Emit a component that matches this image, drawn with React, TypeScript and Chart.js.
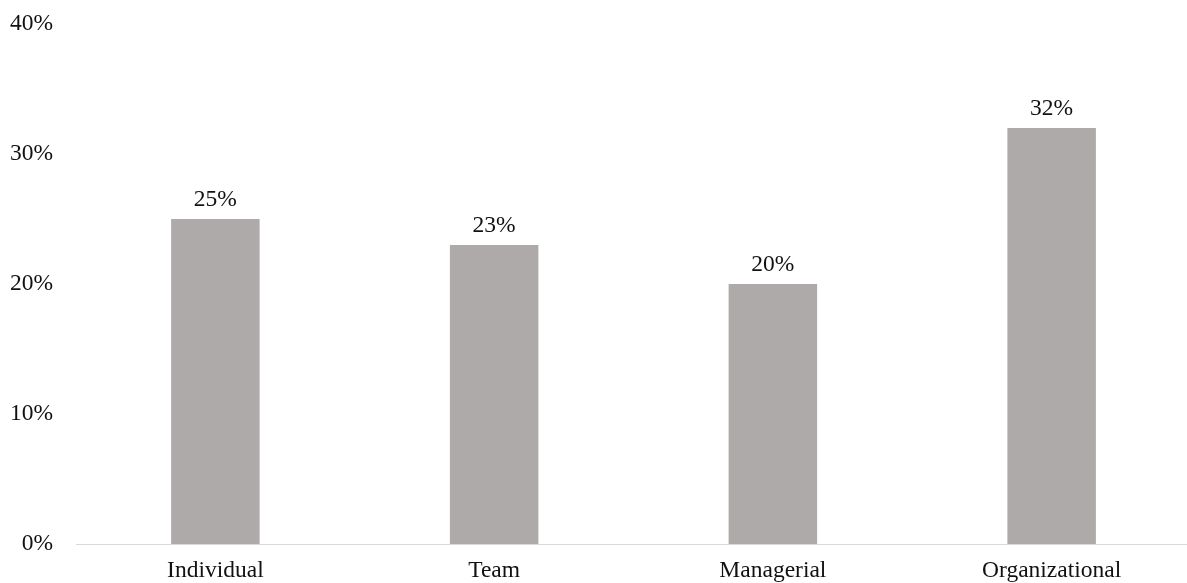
import React, { useEffect, useRef } from "react";
import { Chart, registerables } from "chart.js";

Chart.register(...registerables);

const categories = ["Individual", "Team", "Managerial", "Organizational"];
const values = [25, 23, 20, 32];
const yTicks = [0, 10, 20, 30, 40];

const FONT = '"Liberation Serif", "Times New Roman", serif';
const TEXT = "#111111";
const BAR = "#AEAAAA";

const valueLabels = {
  id: "valueLabels",
  afterDatasetsDraw(chart: any) {
    const ctx = chart.ctx;
    const meta = chart.getDatasetMeta(0);
    ctx.save();
    ctx.font = `23.5px ${FONT}`;
    ctx.fillStyle = TEXT;
    ctx.textAlign = "center";
    ctx.textBaseline = "alphabetic";
    meta.data.forEach((bar: any, i: number) => {
      ctx.fillText(`${values[i]}%`, bar.x, bar.y - 13);
    });
    ctx.restore();
  },
};

export default function App() {
  const ref = useRef<HTMLCanvasElement | null>(null);
  useEffect(() => {
    if (!ref.current) return;
    const chart = new Chart(ref.current, {
      type: "bar",
      data: {
        labels: categories,
        datasets: [
          {
            data: values,
            backgroundColor: BAR,
            borderWidth: 0,
            categoryPercentage: 1,
            barPercentage: 0.3175,
          },
        ],
      },
      options: {
        responsive: false,
        animation: false,
        layout: { padding: { top: 24, left: 0, right: 0, bottom: 0 } },
        plugins: {
          legend: { display: false },
          tooltip: { enabled: false },
        },
        scales: {
          x: {
            grid: { display: false, drawTicks: false },
            border: { display: true, color: "#D9D9D9", width: 1 },
            ticks: {
              padding: 13,
              color: TEXT,
              font: { family: FONT, size: 23.5 },
              maxRotation: 0,
            },
            afterFit: (s: any) => {
              s.height = 39;
            },
          },
          y: {
            min: yTicks[0],
            max: yTicks[yTicks.length - 1],
            grid: { display: false, drawTicks: false },
            border: { display: false },
            afterBuildTicks: (s: any) => {
              s.ticks = yTicks.map((v) => ({ value: v }));
            },
            ticks: {
              padding: 23,
              labelOffset: 0,
              color: TEXT,
              font: { family: FONT, size: 23.5 },
              callback: (v: any) => `${v}%`,
            },
            afterFit: (s: any) => {
              s.width = 76;
              s.paddingTop = 0;
              s.paddingBottom = 0;
            },
          },
        },
      },
      plugins: [valueLabels],
    });
    return () => chart.destroy();
  }, []);
  return (
    <div
      style={{
        position: "fixed",
        left: 0,
        top: 0,
        width: 1187,
        height: 583,
        overflow: "hidden",
        background: "#fff",
      }}
    >
      <canvas ref={ref} width={1191} height={583} style={{ display: "block" }} />
    </div>
  );
}
